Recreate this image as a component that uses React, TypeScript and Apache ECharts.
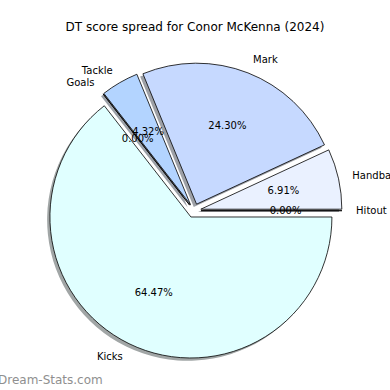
import React, { useEffect, useRef } from "react";
import * as echarts from "echarts";

const categories = ["Hitout", "Handball", "Mark", "Tackle", "Goals", "Kicks"];
const percentages = [0.0, 6.91, 24.3, 4.32, 0.0, 64.47];
const faceColors = ["#f0f4ff", "#eaf1ff", "#c6d9ff", "#b3d4ff", "#b8d6ff", "#e0ffff"];
const title = "DT score spread for Conor McKenna (2024)";
const watermark = "Dream-Stats.com";

function shadowOf(hex: string): string {
  const n = parseInt(hex.slice(1), 16);
  const c = [(n >> 16) & 255, (n >> 8) & 255, n & 255].map((v) =>
    Math.round(255 * 0.5 + 0.5 * 0.3 * v)
  );
  return `rgb(${c[0]},${c[1]},${c[2]})`;
}

export default function App() {
  const ref = useRef<HTMLDivElement>(null);
  useEffect(() => {
    document.body.style.margin = "0";
    const chart = echarts.init(ref.current!, null, { renderer: "svg" });
    const R = 141;
    const cx = 194;
    const cy = 210.7;
    const off = 7;
    const font = "DejaVu Sans";
    const common = {
      type: "pie" as const,
      startAngle: 0,
      clockwise: false,
      selectedMode: "multiple" as const,
      selectedOffset: off,
      avoidLabelOverlap: false,
      silent: true,
      emphasis: { disabled: true },
      animation: false,
      labelLayout: { hideOverlap: false, moveOverlap: undefined },
    };
    const pctSeries = (name: string, z: number, pick: (i: number) => boolean) => ({
      ...common,
      name,
      z,
      center: [cx, cy],
      radius: [R * 0.2 - 6, R],
      itemStyle: { color: "rgba(0,0,0,0)", borderWidth: 0 },
      label: {
        show: true,
        position: "inside",
        formatter: (p: any) => `${Number(p.value).toFixed(2)}%`,
        fontFamily: font,
        fontSize: 10,
        color: "#000",
        overflow: "none",
        width: 80,
        align: "center",
      },
      labelLine: { show: false },
      data: categories.map((c, i) => ({
        name: c,
        value: percentages[i],
        selected: true,
        label: { show: pick(i) },
      })),
    });
    chart.setOption({
      animation: false,
      title: {
        text: title,
        left: "center",
        top: 21,
        padding: 0,
        textStyle: { fontFamily: font, fontSize: 12, fontWeight: "normal", color: "#000" },
      },
      graphic: [
        {
          type: "text",
          left: -2,
          top: 374,
          style: {
            text: watermark,
            fontFamily: font,
            fontSize: 12,
            fontWeight: "normal",
            fill: "#8f8f8f",
          },
        },
      ],
      series: [
        {
          ...common,
          name: "shadow",
          z: 1,
          center: [cx - 2.8, cy + 2.8],
          radius: R,
          label: { show: false },
          labelLine: { show: false },
          data: categories.map((c, i) => ({
            name: c,
            value: percentages[i],
            selected: true,
            itemStyle: { color: shadowOf(faceColors[i]), borderWidth: 0 },
          })),
        },
        {
          ...common,
          name: "main",
          z: 2,
          center: [cx, cy],
          radius: R,
          itemStyle: { borderColor: "#000", borderWidth: 0.8 },
          label: {
            show: true,
            position: "outside",
            formatter: "{b}",
            fontFamily: font,
            fontSize: 10,
            color: "#000",
            distanceToLabelLine: 0,
            width: 120,
            overflow: "none",
          },
          labelLine: { show: false, length: R * 0.1, length2: 0 },
          data: categories.map((c, i) => ({
            name: c,
            value: percentages[i],
            selected: true,
            itemStyle: { color: faceColors[i] },
          })),
        },
        pctSeries("pct", 3, (i) => categories[i] !== "Goals"),
        pctSeries("pct2", 4, (i) => categories[i] === "Goals"),
      ],
    });
    return () => chart.dispose();
  }, []);
  return (
    <div
      ref={ref}
      style={{ position: "absolute", left: 0, top: 0, width: 390, height: 390, background: "#fff" }}
    />
  );
}
